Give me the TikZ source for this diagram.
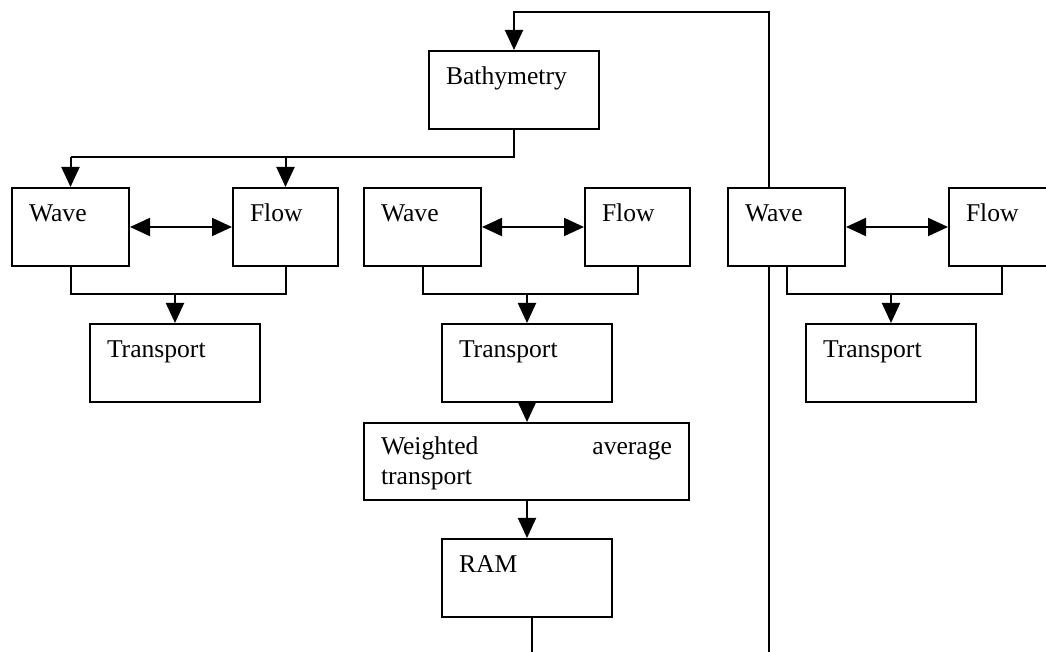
\documentclass[tikz,border=0pt]{standalone}
\usepackage{fontspec}
\setmainfont{Liberation Serif}
\usetikzlibrary{arrows.meta}

\tikzset{
  blk/.style = {draw, rectangle, line width=1pt, anchor=north west,
    inner xsep=8.5pt, inner ysep=0pt, text height=17pt, text depth=22pt,
    align=left},
  wavebox/.style = {blk, text width=41.5pt},
  flowbox/.style = {blk, text width=35.5pt},
  bigbox/.style = {blk, text width=68pt},
  arr/.style = {line width=1pt, -{Triangle[length=10pt,width=9pt]}},
  dbl/.style = {line width=1pt, {Triangle[length=10pt,width=9pt]}-{Triangle[length=10pt,width=9pt]}},
  lin/.style = {line width=1pt}
}

\begin{document}
\begin{tikzpicture}[x=0.5pt, y=-0.5pt, font=\fontsize{12.8}{15}\selectfont]
    \useasboundingbox (0, 0) rectangle (1046, 652);

    \pgfmathsetmacro{\yr}{187};
    \pgfmathsetmacro{\yt}{323};
    \pgfmathsetmacro{\yj}{294};

    \node (bathy) [bigbox] at (428, 50) {Bathymetry};

    \node (wave1) [wavebox] at (11, \yr) {Wave};
    \node (flow1) [flowbox] at (232, \yr) {Flow};
    \node (wave2) [wavebox] at (363, \yr) {Wave};
    \node (flow2) [flowbox] at (584, \yr) {Flow};
    \node (wave3) [wavebox] at (727, \yr) {Wave};
    \node (flow3) [flowbox] at (948, \yr) {Flow};

    \node (trans1) [bigbox] at (89, \yt) {Transport};
    \node (trans2) [bigbox] at (441, \yt) {Transport};
    \node (trans3) [bigbox] at (805, \yt) {Transport};

    \node (wavg) [blk, text width=145.5pt, text height=16pt, text depth=22.5pt] at (363, 422) {Weighted\hfill average\\transport};
    \node (ram) [bigbox] at (441, 538) {RAM};

    \coordinate (loop) at (769, 12);
    \coordinate (loopend) at (769, 652);
    \coordinate (ramout) at (532, 652);

    % loop back to bathymetry
    \draw [arr] (wave3.north -| loop) -- (loop) -| (bathy.north);
    \draw [lin] (wave3.south -| loop) -- (loopend);

    % bathymetry to first pair
    \draw [lin] (bathy.south) |- (wave1.north |- 0,157);
    \draw [arr] (wave1.north |- 0,157) -- (wave1.north);
    \draw [arr] (flow1.north |- 0,157) -- (flow1.north);

    \draw [dbl] (wave1.east) -- (flow1.west);
    \draw [dbl] (wave2.east) -- (flow2.west);
    \draw [dbl] (wave3.east) -- (flow3.west);

    \draw [lin] (wave1.south) |- (0,\yj -| flow1.south) -- (flow1.south);
    \draw [lin] (wave2.south) |- (0,\yj -| flow2.south) -- (flow2.south);
    \draw [lin] (wave3.south) |- (0,\yj -| flow3.south) -- (flow3.south);
    \draw [arr] (trans1.north |- 0,\yj) -- (trans1.north);
    \draw [arr] (trans2.north |- 0,\yj) -- (trans2.north);
    \draw [arr] (trans3.north |- 0,\yj) -- (trans3.north);

    \draw [arr] (trans2.south) -- (wavg.north -| trans2.south);
    \draw [arr] (wavg.south -| ram.north) -- (ram.north);
    \draw [lin] (ram.south -| ramout) -- (ramout);

  \end{tikzpicture}
\end{document}
